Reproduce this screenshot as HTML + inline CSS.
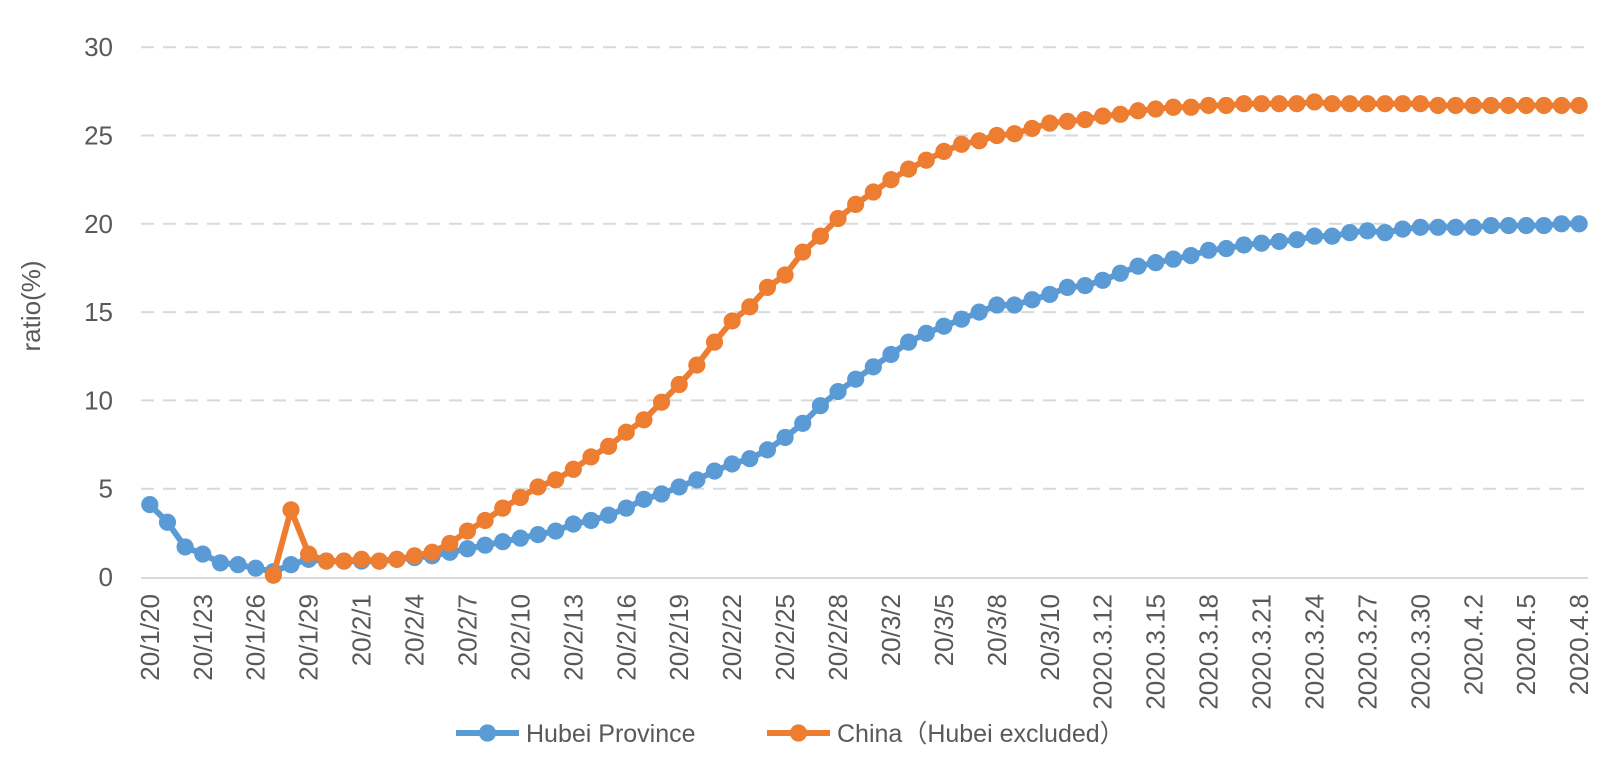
<!DOCTYPE html>
<html><head><meta charset="utf-8"><style>
body{margin:0;background:#fff;}
svg{display:block;font-family:"Liberation Sans",sans-serif;}
</style></head><body>
<svg id="chart" width="1612" height="763" viewBox="0 0 1612 763"></svg>
<script>
const categories=["20/1/20","","","20/1/23","","","20/1/26","","","20/1/29","","","20/2/1","","","20/2/4","","","20/2/7","","","20/2/10","","","20/2/13","","","20/2/16","","","20/2/19","","","20/2/22","","","20/2/25","","","20/2/28","","","20/3/2","","","20/3/5","","","20/3/8","","","20/3/10","","","2020.3.12","","","2020.3.15","","","2020.3.18","","","2020.3.21","","","2020.3.24","","","2020.3.27","","","2020.3.30","","","2020.4.2","","","2020.4.5","","","2020.4.8"];
const hubei=[4.1,3.1,1.7,1.3,0.8,0.7,0.5,0.3,0.7,1.0,0.9,0.9,0.9,0.9,1.0,1.1,1.2,1.4,1.6,1.8,2.0,2.2,2.4,2.6,3.0,3.2,3.5,3.9,4.4,4.7,5.1,5.5,6.0,6.4,6.7,7.2,7.9,8.7,9.7,10.5,11.2,11.9,12.6,13.3,13.8,14.2,14.6,15.0,15.4,15.4,15.7,16.0,16.4,16.5,16.8,17.2,17.6,17.8,18.0,18.2,18.5,18.6,18.8,18.9,19.0,19.1,19.3,19.3,19.5,19.6,19.5,19.7,19.8,19.8,19.8,19.8,19.9,19.9,19.9,19.9,20.0,20.0];
const china=[null,null,null,null,null,null,null,0.1,3.8,1.3,0.9,0.9,1.0,0.9,1.0,1.2,1.4,1.9,2.6,3.2,3.9,4.5,5.1,5.5,6.1,6.8,7.4,8.2,8.9,9.9,10.9,12.0,13.3,14.5,15.3,16.4,17.1,18.4,19.3,20.3,21.1,21.8,22.5,23.1,23.6,24.1,24.5,24.7,25.0,25.1,25.4,25.7,25.8,25.9,26.1,26.2,26.4,26.5,26.6,26.6,26.7,26.7,26.8,26.8,26.8,26.8,26.9,26.8,26.8,26.8,26.8,26.8,26.8,26.7,26.7,26.7,26.7,26.7,26.7,26.7,26.7,26.7];
const yTicks=[0,5,10,15,20,25,30];
const NS="http://www.w3.org/2000/svg";
const svg=document.getElementById('chart');
const plotL=141,plotR=1588,y0=577,yUnit=17.66;
const step=(plotR-plotL)/categories.length;
function xPos(i){return plotL+step*(i+0.5);}
function yPos(v){return y0-v*yUnit;}
function mk(tag,attrs){const e=document.createElementNS(NS,tag);for(const k in attrs)e.setAttribute(k,attrs[k]);svg.appendChild(e);return e;}
yTicks.forEach(t=>{
  if(t>0){const g=mk('line',{x1:plotL,x2:plotR,y1:yPos(t),y2:yPos(t),stroke:'#d9d9d9','stroke-width':2,'stroke-dasharray':'13,9'});
  
  }
  const l=mk('text',{x:113,y:yPos(t)+9,'text-anchor':'end','font-size':26,fill:'#595959'});
  l.textContent=t;
  
  
});
const ax=mk('line',{x1:plotL,x2:plotR,y1:y0+1,y2:y0+1,stroke:'#d9d9d9','stroke-width':2});


categories.forEach((c,i)=>{
  if(!c)return;
  const x=xPos(i)+9,y=594;
  const t=mk('text',{x:x,y:y,transform:`rotate(-90 ${x} ${y})`,'text-anchor':'end','font-size':26,fill:'#595959'});
  t.textContent=c;
  
  
});
const yt=mk('text',{x:40,y:306,transform:'rotate(-90 40 306)','text-anchor':'middle','font-size':26,fill:'#595959'});
yt.textContent='ratio(%)';


function series(vals,color,name){
  let d='';let pen=false;
  vals.forEach((v,i)=>{if(v===null){pen=false;return;}d+=(pen?'L':'M')+xPos(i)+' '+yPos(v)+' ';pen=true;});
  const p=mk('path',{d:d,fill:'none',stroke:color,'stroke-width':6,'stroke-linejoin':'round'});
  
  
  vals.forEach((v,i)=>{if(v===null)return;
    const c=mk('circle',{cx:xPos(i),cy:yPos(v),r:8.6,fill:color});
    
    
  });
}
series(hubei,'#5B9BD5','hubei');
series(china,'#ED7D31','china');
function legend(x1,label,color,name){
  const l=mk('line',{x1:x1,x2:x1+63,y1:733,y2:733,stroke:color,'stroke-width':6});
  
  
  const c=mk('circle',{cx:x1+31.5,cy:733,r:8.6,fill:color});
  
  
  const t=mk('text',{x:x1+70,y:742,'font-size':25,fill:'#595959'});
  t.setAttribute('style','font-family:"Liberation Sans","Noto Sans CJK SC",sans-serif');
  t.textContent=label;
  
  
}
legend(456,'Hubei Province','#5B9BD5','hubei');
legend(767,'China（Hubei excluded）','#ED7D31','china');
</script>
</body></html>
